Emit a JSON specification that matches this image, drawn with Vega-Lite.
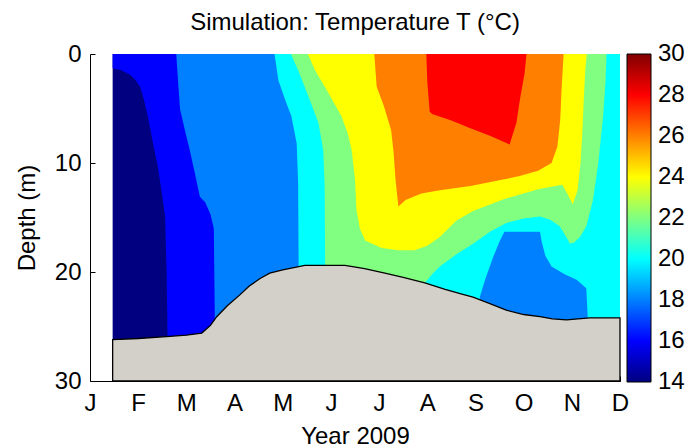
{
  "$schema": "https://vega.github.io/schema/vega-lite/v6.json",
  "width": 530,
  "height": 327,
  "autosize": {"type": "none"},
  "padding": {"left": 90, "top": 54, "right": 66, "bottom": 67},
  "background": "white",
  "title": {"text": "Simulation: Temperature T (°C)", "fontSize": 24, "fontWeight": "normal", "font": "Liberation Sans", "color": "black", "anchor": "middle", "frame": "group", "offset": 9, "dy": 2},
  "datasets": {
    "temp": [
      {"level": 14, "m": 0.47, "d": 30}, {"level": 14, "m": 11, "d": 30},
      {"level": 16, "m": 0.47, "d": 1.3}, {"level": 16, "m": 0.65, "d": 1.5}, {"level": 16, "m": 0.83, "d": 1.9}, {"level": 16, "m": 0.95, "d": 2.4}, {"level": 16, "m": 1.04, "d": 3.0}, {"level": 16, "m": 1.12, "d": 4.2}, {"level": 16, "m": 1.2, "d": 5.7}, {"level": 16, "m": 1.3, "d": 8.0}, {"level": 16, "m": 1.41, "d": 10.4}, {"level": 16, "m": 1.5, "d": 13}, {"level": 16, "m": 1.56, "d": 15}, {"level": 16, "m": 1.59, "d": 20}, {"level": 16, "m": 1.61, "d": 26}, {"level": 16, "m": 1.63, "d": 30}, {"level": 16, "m": 11, "d": 30},
      {"level": 18, "m": 1.79, "d": 0}, {"level": 18, "m": 1.82, "d": 2}, {"level": 18, "m": 1.87, "d": 5.1}, {"level": 18, "m": 1.97, "d": 7}, {"level": 18, "m": 2.07, "d": 8.8}, {"level": 18, "m": 2.18, "d": 11}, {"level": 18, "m": 2.28, "d": 13.1}, {"level": 18, "m": 2.39, "d": 13.6}, {"level": 18, "m": 2.5, "d": 14.7}, {"level": 18, "m": 2.57, "d": 16}, {"level": 18, "m": 2.59, "d": 24.2}, {"level": 18, "m": 2.61, "d": 30}, {"level": 18, "m": 11, "d": 30},
      {"level": 20, "m": 3.83, "d": 0}, {"level": 20, "m": 3.91, "d": 2.4}, {"level": 20, "m": 4.05, "d": 4.2}, {"level": 20, "m": 4.18, "d": 5.7}, {"level": 20, "m": 4.29, "d": 8.2}, {"level": 20, "m": 4.32, "d": 11.9}, {"level": 20, "m": 4.33, "d": 19.5}, {"level": 20, "m": 4.35, "d": 30}, {"level": 20, "m": 8.06, "d": 30}, {"level": 20, "m": 8.09, "d": 22.3}, {"level": 20, "m": 8.2, "d": 20.7}, {"level": 20, "m": 8.37, "d": 18.6}, {"level": 20, "m": 8.5, "d": 17.2}, {"level": 20, "m": 8.6, "d": 16.3}, {"level": 20, "m": 9.34, "d": 16.3}, {"level": 20, "m": 9.37, "d": 17.1}, {"level": 20, "m": 9.45, "d": 18.5}, {"level": 20, "m": 9.58, "d": 19.5}, {"level": 20, "m": 9.85, "d": 20.2}, {"level": 20, "m": 10.1, "d": 20.7}, {"level": 20, "m": 10.3, "d": 21.5}, {"level": 20, "m": 10.33, "d": 24.1}, {"level": 20, "m": 10.35, "d": 30}, {"level": 20, "m": 11, "d": 30},
      {"level": 22, "m": 4.17, "d": 0}, {"level": 22, "m": 4.32, "d": 1.5}, {"level": 22, "m": 4.5, "d": 3.5}, {"level": 22, "m": 4.74, "d": 6.3}, {"level": 22, "m": 4.84, "d": 8.8}, {"level": 22, "m": 4.87, "d": 12}, {"level": 22, "m": 4.88, "d": 19.2}, {"level": 22, "m": 4.9, "d": 30}, {"level": 22, "m": 6.9, "d": 30}, {"level": 22, "m": 6.95, "d": 21}, {"level": 22, "m": 7.1, "d": 20.2}, {"level": 22, "m": 7.26, "d": 19.5}, {"level": 22, "m": 7.6, "d": 18.4}, {"level": 22, "m": 7.95, "d": 17.4}, {"level": 22, "m": 8.3, "d": 16.3}, {"level": 22, "m": 8.64, "d": 15.5}, {"level": 22, "m": 9.0, "d": 15.1}, {"level": 22, "m": 9.34, "d": 14.9}, {"level": 22, "m": 9.55, "d": 15.2}, {"level": 22, "m": 9.75, "d": 15.8}, {"level": 22, "m": 9.9, "d": 16.9}, {"level": 22, "m": 9.96, "d": 17.4}, {"level": 22, "m": 10.05, "d": 17.3}, {"level": 22, "m": 10.17, "d": 16.8}, {"level": 22, "m": 10.3, "d": 15.8}, {"level": 22, "m": 10.44, "d": 13.4}, {"level": 22, "m": 10.55, "d": 10}, {"level": 22, "m": 10.65, "d": 5.7}, {"level": 22, "m": 10.7, "d": 2.5}, {"level": 22, "m": 10.72, "d": 0},
      {"level": 24, "m": 4.52, "d": 0}, {"level": 24, "m": 4.67, "d": 1.5}, {"level": 24, "m": 4.9, "d": 3.2}, {"level": 24, "m": 5.22, "d": 5.7}, {"level": 24, "m": 5.35, "d": 7.3}, {"level": 24, "m": 5.43, "d": 8.8}, {"level": 24, "m": 5.5, "d": 11.5}, {"level": 24, "m": 5.53, "d": 14.3}, {"level": 24, "m": 5.6, "d": 16}, {"level": 24, "m": 5.71, "d": 17.1}, {"level": 24, "m": 6.05, "d": 17.8}, {"level": 24, "m": 6.4, "d": 18}, {"level": 24, "m": 6.74, "d": 18}, {"level": 24, "m": 7.0, "d": 17.6}, {"level": 24, "m": 7.26, "d": 16.8}, {"level": 24, "m": 7.6, "d": 15.3}, {"level": 24, "m": 7.95, "d": 14.4}, {"level": 24, "m": 8.6, "d": 13.3}, {"level": 24, "m": 9.3, "d": 12.4}, {"level": 24, "m": 9.8, "d": 12.0}, {"level": 24, "m": 9.93, "d": 13.0}, {"level": 24, "m": 10.02, "d": 13.8}, {"level": 24, "m": 10.12, "d": 12.5}, {"level": 24, "m": 10.18, "d": 10}, {"level": 24, "m": 10.22, "d": 7}, {"level": 24, "m": 10.25, "d": 4}, {"level": 24, "m": 10.28, "d": 1.5}, {"level": 24, "m": 10.31, "d": 0},
      {"level": 26, "m": 5.9, "d": 0}, {"level": 26, "m": 5.95, "d": 3}, {"level": 26, "m": 6.1, "d": 4.8}, {"level": 26, "m": 6.25, "d": 7}, {"level": 26, "m": 6.3, "d": 9}, {"level": 26, "m": 6.34, "d": 11.5}, {"level": 26, "m": 6.4, "d": 14}, {"level": 26, "m": 6.55, "d": 13.4}, {"level": 26, "m": 6.88, "d": 12.8}, {"level": 26, "m": 7.26, "d": 12.5}, {"level": 26, "m": 7.9, "d": 12.1}, {"level": 26, "m": 8.6, "d": 11.5}, {"level": 26, "m": 8.92, "d": 11.2}, {"level": 26, "m": 9.3, "d": 10.7}, {"level": 26, "m": 9.58, "d": 10.0}, {"level": 26, "m": 9.7, "d": 8.5}, {"level": 26, "m": 9.76, "d": 6}, {"level": 26, "m": 9.79, "d": 3}, {"level": 26, "m": 9.83, "d": 0},
      {"level": 28, "m": 6.98, "d": 0}, {"level": 28, "m": 7.0, "d": 2.5}, {"level": 28, "m": 7.05, "d": 5.3}, {"level": 28, "m": 7.1, "d": 5.5}, {"level": 28, "m": 7.5, "d": 6.1}, {"level": 28, "m": 7.88, "d": 6.8}, {"level": 28, "m": 8.3, "d": 7.5}, {"level": 28, "m": 8.71, "d": 8.3}, {"level": 28, "m": 8.78, "d": 7.3}, {"level": 28, "m": 8.85, "d": 6.3}, {"level": 28, "m": 8.93, "d": 4}, {"level": 28, "m": 9.02, "d": 1.8}, {"level": 28, "m": 9.06, "d": 0}
    ],
    "bathy": [
      {"m": 0.47, "d": 26.2}, {"m": 1.0, "d": 26.1}, {"m": 1.66, "d": 25.9}, {"m": 2.0, "d": 25.8}, {"m": 2.32, "d": 25.6}, {"m": 2.5, "d": 24.9}, {"m": 2.63, "d": 24.1}, {"m": 2.85, "d": 23.1}, {"m": 3.11, "d": 22.1}, {"m": 3.3, "d": 21.3}, {"m": 3.53, "d": 20.6}, {"m": 3.73, "d": 20.1}, {"m": 4.0, "d": 19.8}, {"m": 4.46, "d": 19.4}, {"m": 5.0, "d": 19.4}, {"m": 5.29, "d": 19.4}, {"m": 5.7, "d": 19.7}, {"m": 6.12, "d": 20.1}, {"m": 6.5, "d": 20.5}, {"m": 6.95, "d": 21.0}, {"m": 7.37, "d": 21.6}, {"m": 7.7, "d": 22.0}, {"m": 7.95, "d": 22.3}, {"m": 8.3, "d": 22.9}, {"m": 8.64, "d": 23.5}, {"m": 9.0, "d": 23.9}, {"m": 9.34, "d": 24.1}, {"m": 9.6, "d": 24.3}, {"m": 9.89, "d": 24.4}, {"m": 10.37, "d": 24.2}, {"m": 11, "d": 24.2}
    ]
  },
  "encoding": {
    "x": {"field": "m", "type": "quantitative", "scale": {"domain": [0, 11], "nice": false, "zero": false},
      "axis": {"values": [0, 1, 2, 3, 4, 5, 6, 7, 8, 9, 10, 11], "labelExpr": "['J','F','M','A','M','J','J','A','S','O','N','D'][datum.value]", "title": "Year 2009", "tickSize": -5, "labelPadding": 15, "titlePadding": 9}},
    "y": {"field": "d", "type": "quantitative", "stack": null, "scale": {"domain": [0, 30], "reverse": true, "nice": false, "zero": false},
      "axis": {"values": [0, 10, 20, 30], "title": "Depth (m)", "tickSize": -5, "labelPadding": 14, "titlePadding": 15}}
  },
  "layer": [
    {"data": {"name": "temp"}, "transform": [{"filter": "datum.level == 14"}], "mark": {"type": "area", "interpolate": "linear"}, "encoding": {"y2": {"datum": 0}, "color": {"field": "level", "type": "quantitative"}}},
    {"data": {"name": "temp"}, "transform": [{"filter": "datum.level == 16"}], "mark": {"type": "area", "interpolate": "linear"}, "encoding": {"y2": {"datum": 0}, "color": {"field": "level", "type": "quantitative"}}},
    {"data": {"name": "temp"}, "transform": [{"filter": "datum.level == 18"}], "mark": {"type": "area", "interpolate": "linear"}, "encoding": {"y2": {"datum": 0}, "color": {"field": "level", "type": "quantitative"}}},
    {"data": {"name": "temp"}, "transform": [{"filter": "datum.level == 20"}], "mark": {"type": "area", "interpolate": "linear"}, "encoding": {"y2": {"datum": 0}, "color": {"field": "level", "type": "quantitative"}}},
    {"data": {"name": "temp"}, "transform": [{"filter": "datum.level == 22"}], "mark": {"type": "area", "interpolate": "linear"}, "encoding": {"y2": {"datum": 0}, "color": {"field": "level", "type": "quantitative"}}},
    {"data": {"name": "temp"}, "transform": [{"filter": "datum.level == 24"}], "mark": {"type": "area", "interpolate": "linear"}, "encoding": {"y2": {"datum": 0}, "color": {"field": "level", "type": "quantitative"}}},
    {"data": {"name": "temp"}, "transform": [{"filter": "datum.level == 26"}], "mark": {"type": "area", "interpolate": "linear"}, "encoding": {"y2": {"datum": 0}, "color": {"field": "level", "type": "quantitative"}}},
    {"data": {"name": "temp"}, "transform": [{"filter": "datum.level == 28"}], "mark": {"type": "area", "interpolate": "linear"}, "encoding": {"y2": {"datum": 0}, "color": {"field": "level", "type": "quantitative",
      "scale": {"domain": [14, 16, 18, 20, 22, 24, 26, 28, 30], "range": ["#000080", "#0000ff", "#0080ff", "#00ffff", "#80ff80", "#ffff00", "#ff8000", "#ff0000", "#800000"], "interpolate": "rgb"},
      "legend": {"title": null, "values": [14, 16, 18, 20, 22, 24, 26, 28, 30], "gradientLength": 328, "gradientThickness": 24, "labelOverlap": false, "offset": 7, "labelOffset": 7,
        "encode": {"labels": {"update": {"baseline": {"value": "middle"}}}}}}}},
    {"data": {"name": "bathy"}, "mark": {"type": "area", "interpolate": "linear", "color": "#d3cfc9", "stroke": "black", "strokeWidth": 1.3}, "encoding": {"y2": {"datum": 30}}},
    {"mark": {"type": "rule", "color": "black", "strokeWidth": 1}, "encoding": {"y": {"datum": 0}}},
    {"mark": {"type": "rule", "color": "black", "strokeWidth": 1}, "encoding": {"x": {"datum": 11}}}
  ],
  "config": {
    "view": {"stroke": null},
    "font": "Liberation Sans",
    "axis": {"labelFont": "Liberation Sans", "titleFont": "Liberation Sans", "labelFontSize": 24, "titleFontSize": 24, "titleFontWeight": "normal", "labelColor": "black", "titleColor": "black", "domainColor": "black", "tickColor": "black", "grid": false, "zindex": 1, "labelFlush": false},
    "legend": {"labelFont": "Liberation Sans", "labelFontSize": 24, "labelColor": "black", "gradientStrokeColor": "black", "gradientStrokeWidth": 1, "padding": 0, "direction": "vertical"}
  }
}
